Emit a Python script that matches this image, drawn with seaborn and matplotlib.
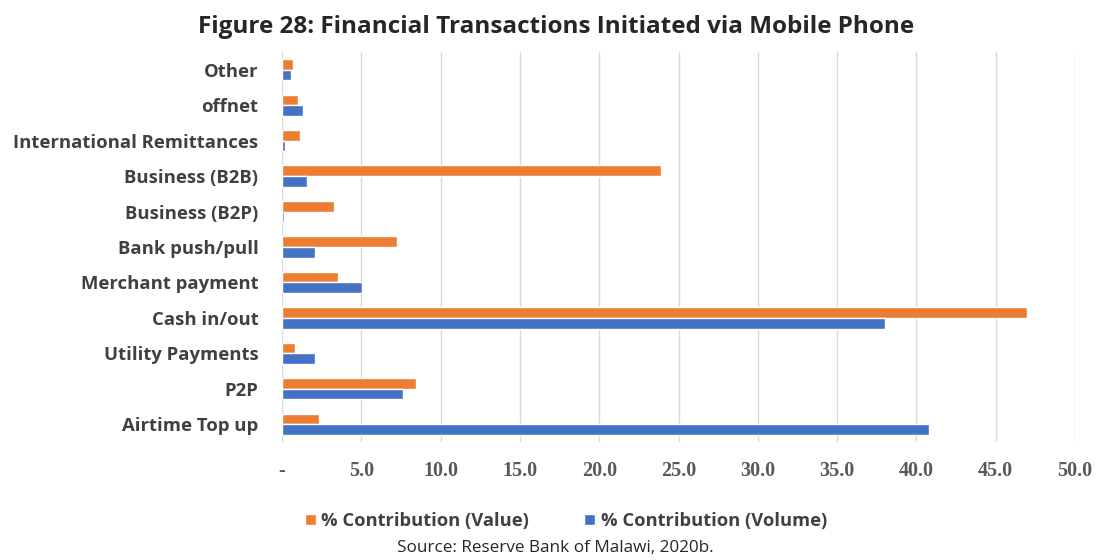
import pandas as pd
import seaborn as sns
import matplotlib.pyplot as plt
from matplotlib.patches import Patch

# data (top to bottom)
categorias = ["Other", "offnet", "International Remittances", "Business (B2B)",
              "Business (B2P)", "Bank push/pull", "Merchant payment", "Cash in/out",
              "Utility Payments", "P2P", "Airtime Top up"]
valor = [0.7, 1.0, 1.15, 23.9, 3.25, 7.25, 3.55, 47.0, 0.8, 8.45, 2.35]
volume = [0.55, 1.35, 0.2, 1.6, 0.15, 2.05, 5.05, 38.0, 2.05, 7.6, 40.8]
series = ["% Contribution (Value)", "% Contribution (Volume)"]
cores = ["#ED7D31", "#4472C4"]
xticks = [0, 5, 10, 15, 20, 25, 30, 35, 40, 45, 50]
xlabels = ["-"] + [f"{v:.1f}" for v in xticks[1:]]

df = pd.DataFrame({
    "Categoria": categorias * 2,
    "Percent": valor + volume,
    "Serie": [series[0]] * len(categorias) + [series[1]] * len(categorias),
})

sns.set_style("white")
plt.rcParams["font.family"] = ["Open Sans", "DejaVu Sans"]

fig = plt.figure(figsize=(10.99, 5.6), dpi=100)
ax = fig.add_axes([282 / 1099, 1 - 442 / 560, (1075 - 282) / 1099, (442 - 52) / 560])

sns.barplot(data=df, y="Categoria", x="Percent", hue="Serie", order=categorias,
            hue_order=series, palette=cores, orient="h", width=0.6,
            saturation=1, ax=ax, legend=False)

ax.set_xlim(0, 50)
ax.set_xticks(xticks)
ax.set_xticklabels(xlabels, fontsize=14.5, fontweight="bold", color="#595959",
                   family="Liberation Serif")
ax.tick_params(axis="x", length=0, pad=14)
ax.tick_params(axis="y", length=0, pad=17)
for lab in ax.get_yticklabels():
    lab.set_fontweight("bold")
    lab.set_fontsize(13.3)
    lab.set_color("#404040")
ax.grid(axis="x", color="#d9d9d9", linewidth=1)
ax.set_axisbelow(True)
for s in ax.spines.values():
    s.set_visible(False)
ax.set_xlabel("")
ax.set_ylabel("")

handles = [Patch(facecolor=c, label=s) for c, s in zip(cores, series)]
fig.legend(handles=handles, loc="center", bbox_to_anchor=(566 / 1099, 1 - 521 / 560),
           ncol=2, frameon=False, handlelength=0.6, handleheight=0.6,
           handletextpad=0.3, columnspacing=3.0,
           prop={"weight": "bold", "size": 13.2})
for t in fig.legends[0].get_texts():
    t.set_color("#404040")

fig.text(556 / 1099, 1 - 27 / 560, "Figure 28: Financial Transactions Initiated via Mobile Phone",
         ha="center", va="center", fontsize=17.5, fontweight="bold")
fig.text(555 / 1099, 1 - 548 / 560, "Source: Reserve Bank of Malawi, 2020b.",
         ha="center", va="center", fontsize=12.3)

fig.savefig("out.png", dpi=100)
